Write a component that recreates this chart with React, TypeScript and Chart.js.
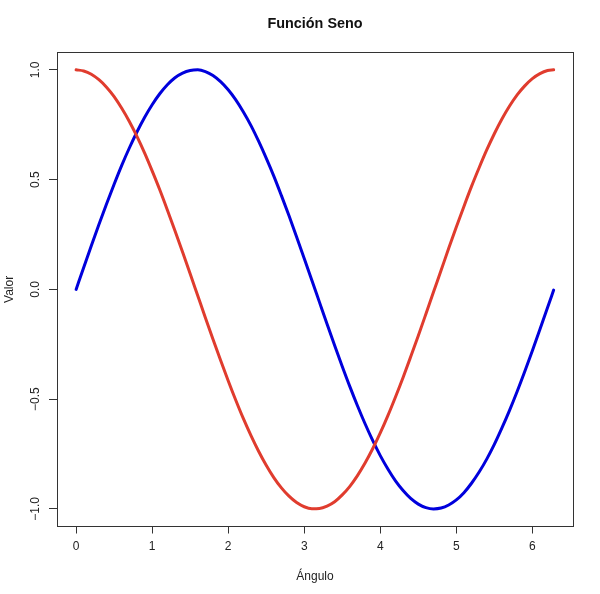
import { useRef, useEffect } from 'react';
import Chart from 'chart.js/auto';

// Ángulo (radianes) y valores
const angles = [
  0, 0.1, 0.2, 0.3, 0.4, 0.5, 0.6, 0.7, 0.8, 0.9,
  1.0, 1.1, 1.2, 1.3, 1.4, 1.5, 1.6, 1.7, 1.8, 1.9,
  2.0, 2.1, 2.2, 2.3, 2.4, 2.5, 2.6, 2.7, 2.8, 2.9,
  3.0, 3.1, 3.2, 3.3, 3.4, 3.5, 3.6, 3.7, 3.8, 3.9,
  4.0, 4.1, 4.2, 4.3, 4.4, 4.5, 4.6, 4.7, 4.8, 4.9,
  5.0, 5.1, 5.2, 5.3, 5.4, 5.5, 5.6, 5.7, 5.8, 5.9,
  6.0, 6.1, 6.2, 6.28,
];

const sinValues = [
  0.000, 0.100, 0.199, 0.296, 0.389, 0.479, 0.565, 0.644, 0.717, 0.783,
  0.841, 0.891, 0.932, 0.964, 0.985, 0.997, 1.000, 0.992, 0.974, 0.946,
  0.909, 0.863, 0.808, 0.746, 0.675, 0.598, 0.516, 0.427, 0.335, 0.239,
  0.141, 0.042, -0.058, -0.158, -0.256, -0.351, -0.443, -0.530, -0.612, -0.688,
  -0.757, -0.818, -0.872, -0.916, -0.952, -0.978, -0.994, -1.000, -0.996, -0.982,
  -0.959, -0.926, -0.883, -0.832, -0.773, -0.706, -0.631, -0.551, -0.465, -0.374,
  -0.279, -0.182, -0.083, -0.003,
];

const cosValues = [
  1.000, 0.995, 0.980, 0.955, 0.921, 0.878, 0.825, 0.765, 0.697, 0.622,
  0.540, 0.454, 0.362, 0.267, 0.170, 0.071, -0.029, -0.129, -0.227, -0.323,
  -0.416, -0.505, -0.589, -0.666, -0.737, -0.801, -0.857, -0.904, -0.942, -0.971,
  -0.990, -0.999, -0.998, -0.987, -0.967, -0.936, -0.897, -0.848, -0.791, -0.726,
  -0.654, -0.575, -0.490, -0.401, -0.307, -0.211, -0.112, -0.012, 0.087, 0.187,
  0.284, 0.378, 0.469, 0.554, 0.635, 0.709, 0.776, 0.835, 0.886, 0.927,
  0.960, 0.983, 0.997, 1.000,
];

const xTicks = [0, 1, 2, 3, 4, 5, 6];
const yTicks = [-1, -0.5, 0, 0.5, 1];
const yTickLabels = ['\u22121.0', '\u22120.5', '0.0', '0.5', '1.0'];

const FONT = '"Liberation Sans", Arial, Helvetica, sans-serif';

// R draws a box around the plot and vertical y labels, Chart.js doesn't
const boxAndYLabels = {
  id: 'boxAndYLabels',
  afterDraw(chart: any) {
    const { ctx, chartArea, scales } = chart;
    ctx.save();
    ctx.strokeStyle = '#333';
    ctx.lineWidth = 1;
    ctx.strokeRect(
      Math.round(chartArea.left) + 0.5,
      Math.round(chartArea.top) + 0.5,
      Math.round(chartArea.right - chartArea.left),
      Math.round(chartArea.bottom - chartArea.top)
    );
    ctx.fillStyle = '#222';
    ctx.font = `12px ${FONT}`;
    ctx.textAlign = 'center';
    ctx.textBaseline = 'middle';
    yTicks.forEach((v, i) => {
      const y = scales.y.getPixelForValue(v);
      ctx.save();
      ctx.translate(chartArea.left - 21, y);
      ctx.rotate(-Math.PI / 2);
      ctx.fillText(yTickLabels[i], 0, 0);
      ctx.restore();
    });
    ctx.restore();
  },
};

export default function App() {
  const chartRef = useRef<HTMLCanvasElement>(null);
  const chartInstance = useRef<Chart | null>(null);

  useEffect(() => {
    document.body.style.margin = '0';
    if (!chartRef.current) return;
    if (chartInstance.current) chartInstance.current.destroy();

    const ctx = chartRef.current.getContext('2d');
    if (!ctx) return;

    chartInstance.current = new Chart(ctx, {
      type: 'line',
      data: {
        datasets: [
          {
            label: 'Seno',
            data: angles.map((a, i) => ({ x: a, y: sinValues[i] })),
            borderColor: '#0000dc',
            borderWidth: 3,
            pointRadius: 0,
            cubicInterpolationMode: 'monotone',
            borderCapStyle: 'round',
            borderJoinStyle: 'round',
            fill: false,
            order: 2,
          },
          {
            label: 'Coseno',
            data: angles.map((a, i) => ({ x: a, y: cosValues[i] })),
            borderColor: '#e03c2e',
            borderWidth: 3,
            pointRadius: 0,
            cubicInterpolationMode: 'monotone',
            borderCapStyle: 'round',
            borderJoinStyle: 'round',
            fill: false,
            order: 1,
          },
        ],
      },
      options: {
        responsive: false,
        animation: false,
        layout: { padding: { left: 0, right: 27, top: 0, bottom: 0 } },
        plugins: {
          legend: { display: false },
          tooltip: { enabled: false },
          title: {
            display: true,
            text: 'Función Seno',
            fullSize: false,
            color: '#111',
            font: { family: FONT, size: 14.4, weight: 'bold', lineHeight: 1.2 },
            padding: { top: 15, bottom: 20 },
          },
        },
        scales: {
          x: {
            type: 'linear',
            min: -0.2513,
            max: 6.5345,
            afterBuildTicks: (scale: any) => {
              scale.ticks = xTicks.map(v => ({ value: v }));
            },
            afterFit: (scale: any) => {
              scale.height = 67.5;
            },
            grid: {
              drawOnChartArea: false,
              drawTicks: true,
              tickLength: 7,
              color: '#333',
            },
            border: { display: false },
            ticks: {
              color: '#222',
              font: { family: FONT, size: 12 },
              padding: 6,
              maxRotation: 0,
              callback: (v: any) => String(v),
            },
            title: {
              display: true,
              text: 'Ángulo',
              color: '#222',
              font: { family: FONT, size: 12 },
              padding: { top: 0, bottom: 10 },
            },
          },
          y: {
            type: 'linear',
            min: -1.08,
            max: 1.08,
            afterBuildTicks: (scale: any) => {
              scale.ticks = yTicks.map(v => ({ value: v }));
            },
            afterFit: (scale: any) => {
              scale.width = 57;
            },
            grid: {
              drawOnChartArea: false,
              drawTicks: true,
              tickLength: 8,
              color: '#333',
            },
            border: { display: false },
            ticks: { display: false },
            title: {
              display: true,
              text: 'Valor',
              color: '#222',
              font: { family: FONT, size: 12 },
              padding: { top: 2, bottom: 0 },
            },
          },
        },
      },
      plugins: [boxAndYLabels],
    });

    return () => {
      if (chartInstance.current) {
        chartInstance.current.destroy();
        chartInstance.current = null;
      }
    };
  }, []);

  return (
    <div style={{ width: 600, height: 594, background: '#fff' }}>
      <canvas ref={chartRef} width={600} height={594}></canvas>
    </div>
  );
}
